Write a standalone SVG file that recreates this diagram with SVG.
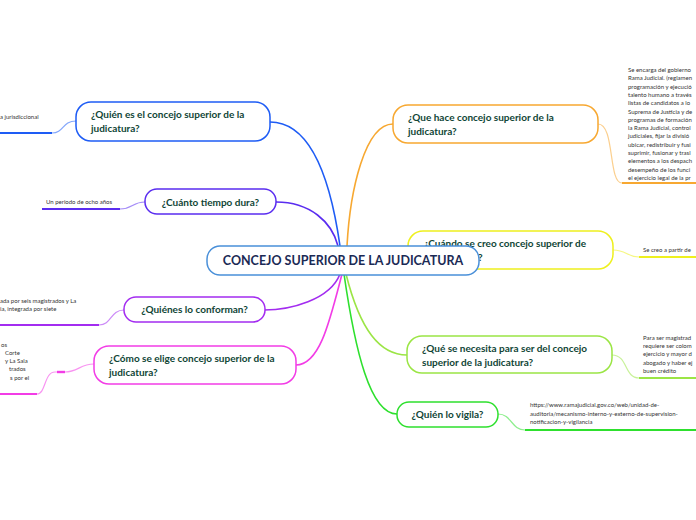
<svg xmlns="http://www.w3.org/2000/svg" width="696" height="520" viewBox="0 0 696 520">
<style>
  .node { fill: #ffffff; stroke-width: 1.5; }
  .title { font-family: Lato, "Open Sans", sans-serif; font-weight: 700; font-size: 10px; fill: #0f4536; }
  .central { font-family: Lato, "Open Sans", sans-serif; font-weight: 700; font-size: 12.5px; fill: #1b2a55; }
  .leaf { font-family: Lato, "Open Sans", sans-serif; font-size: 6px; fill: #333333; }
  .conn { fill: none; stroke-width: 1.6; stroke-linecap: round; }
  .sub { fill: none; stroke-width: 1.2; opacity: 0.55; }
  .bar { fill: none; stroke-width: 2.2; }
</style>
<rect width="696" height="520" fill="#ffffff"/>

<g id="connectors">
  <!-- central to branches -->
  <path class="conn" stroke="#1e5cf5" d="M270,122 C315,122 332,190 340,246"/>
  <path class="conn" stroke="#5a2df0" d="M276,202 C310,202 332,222 338,246"/>
  <path class="conn" stroke="#a32cf0" d="M340,274 C330,300 290,310 264,310"/>
  <path class="conn" stroke="#f23ce6" d="M342,274 C330,320 320,365 296,365"/>
  <path class="conn" stroke="#f7a831" d="M393,124 C365,124 350,190 347,246"/>
  <path class="conn" stroke="#eef01e" d="M345,250 C380,250 390,250 408,250"/>
  <path class="conn" stroke="#9be545" d="M346,274 C360,330 380,355 407,355"/>
  <path class="conn" stroke="#2ee02e" d="M344,274 C355,350 370,414 397,414"/>
  <!-- branch to leaf -->
  <path class="sub" stroke="#1e5cf5" d="M76,121 C62,121 64,133 52,133"/>
  <path class="bar" stroke="#1e5cf5" d="M0,133 L52,133"/>
  <path class="sub" stroke="#5a2df0" d="M145,202 C132,202 133,209 120,209"/>
  <path class="bar" stroke="#5a2df0" d="M42,209 L120,209"/>
  <path class="sub" stroke="#a32cf0" d="M124,310 C110,310 112,325 99,325"/>
  <path class="bar" stroke="#a32cf0" d="M0,325 L99,325"/>
  <path class="sub" stroke="#f23ce6" d="M94,364 C80,364 78,372 65,372 L55,372 C44,372 46,394 37,394"/>
  <path stroke="#f23ce6" stroke-width="2.4" fill="none" d="M57,372 L65,372"/>
  <path class="bar" stroke="#f23ce6" d="M0,394 L37,394"/>
  <path class="sub" stroke="#f7a831" d="M598,124 C615,124 608,183 622,183"/>
  <path class="bar" stroke="#f7a831" d="M622,183 L696,183"/>
  <path class="sub" stroke="#eef01e" d="M613,250 C627,250 626,257 639,257"/>
  <path class="bar" stroke="#eef01e" d="M639,257 L696,257"/>
  <path class="sub" stroke="#9be545" d="M612,355 C628,355 624,378 639,378"/>
  <path class="bar" stroke="#9be545" d="M639,378 L696,378"/>
  <path class="sub" stroke="#2ee02e" d="M498,414 C512,414 511,430 525,430"/>
  <path class="bar" stroke="#2ee02e" d="M525,430 L696,430"/>
</g>

<g id="leaf-quien-es">
  <text class="leaf" x="0" y="119">a jurisdiccional</text>
</g>
<g id="leaf-cuanto">
  <text class="leaf" x="46" y="204">Un periodo de ocho años</text>
</g>
<g id="leaf-quienes">
  <text class="leaf" x="0" y="303">ada por seis magistrados  y La</text>
  <text class="leaf" x="0" y="311">ia, integrada por siete</text>
</g>
<g id="leaf-como">
  <text class="leaf" x="1" y="347">os</text>
  <text class="leaf" x="5" y="355">Corte</text>
  <text class="leaf" x="5" y="363">y La Sala</text>
  <text class="leaf" x="9" y="371">trados</text>
  <text class="leaf" x="10" y="380">s por el</text>
</g>
<g id="leaf-que-hace">
  <text class="leaf" x="628" y="72">Se encarga del gobierno</text>
  <text class="leaf" x="628" y="80.3">Rama Judicial. (reglamen</text>
  <text class="leaf" x="628" y="88.6">programación y ejecució</text>
  <text class="leaf" x="628" y="96.9">talento humano a través</text>
  <text class="leaf" x="628" y="105.2">listas de candidatos a lo</text>
  <text class="leaf" x="628" y="113.5">Suprema de Justicia y de</text>
  <text class="leaf" x="628" y="121.8">programas de formación</text>
  <text class="leaf" x="628" y="130.1">la Rama Judicial, control</text>
  <text class="leaf" x="628" y="138.4">judiciales, fijar la divisió</text>
  <text class="leaf" x="628" y="146.7">ubicar, redistribuir y fusi</text>
  <text class="leaf" x="628" y="155">suprimir, fusionar y trasl</text>
  <text class="leaf" x="628" y="163.3">elementos a los despach</text>
  <text class="leaf" x="628" y="171.6">desempeño de los funci</text>
  <text class="leaf" x="628" y="179.9">el ejercicio legal de la pr</text>
</g>
<g id="leaf-cuando">
  <text class="leaf" x="643" y="252">Se creo a partir de</text>
</g>
<g id="leaf-que-se-necesita">
  <text class="leaf" x="643" y="340">Para ser magistrad</text>
  <text class="leaf" x="643" y="348.2">requiere ser colom</text>
  <text class="leaf" x="643" y="356.4">ejercicio y mayor d</text>
  <text class="leaf" x="643" y="364.6">abogado y haber ej</text>
  <text class="leaf" x="643" y="372.8">buen crédito</text>
</g>
<g id="leaf-vigila">
  <text class="leaf" x="530" y="407">https://www.ramajudicial.gov.co/web/unidad-de-</text>
  <text class="leaf" x="530" y="415.5">auditoria/mecanismo-interno-y-externo-de-supervision-</text>
  <text class="leaf" x="530" y="424">notificacion-y-vigilancia</text>
</g>

<g id="node-quien-es">
  <rect class="node" stroke="#1e5cf5" x="76" y="102" width="194" height="39" rx="15"/>
  <text class="title" x="91" y="118">¿Quién es el concejo superior de la</text>
  <text class="title" x="91" y="132">judicatura?</text>
</g>
<g id="node-cuanto">
  <rect class="node" stroke="#5a2df0" x="145" y="189" width="131" height="25" rx="12"/>
  <text class="title" x="210.5" y="206" text-anchor="middle">¿Cuánto tiempo dura?</text>
</g>
<g id="node-quienes">
  <rect class="node" stroke="#a32cf0" x="124" y="297" width="141" height="25" rx="12"/>
  <text class="title" x="194.5" y="313" text-anchor="middle">¿Quiénes lo conforman?</text>
</g>
<g id="node-como">
  <rect class="node" stroke="#f23ce6" x="94" y="346" width="202" height="38" rx="15"/>
  <text class="title" x="109" y="362">¿Cómo se elige concejo superior de la</text>
  <text class="title" x="109" y="376">judicatura?</text>
</g>
<g id="node-que-hace">
  <rect class="node" stroke="#f7a831" x="393" y="105" width="205" height="38" rx="15"/>
  <text class="title" x="408" y="121">¿Que hace concejo superior de la</text>
  <text class="title" x="408" y="135">judicatura?</text>
</g>
<g id="node-cuando">
  <rect class="node" stroke="#eef01e" x="408" y="231" width="205" height="38" rx="15"/>
  <text class="title" x="424" y="247">¿Cuándo se creo concejo superior de</text>
  <text class="title" x="424" y="261">la judicatura?</text>
</g>
<g id="node-que-se-necesita">
  <rect class="node" stroke="#9be545" x="407" y="336" width="205" height="37" rx="15"/>
  <text class="title" x="422" y="352">¿Qué se necesita para ser del concejo</text>
  <text class="title" x="422" y="366">superior de la judicatura?</text>
</g>
<g id="node-vigila">
  <rect class="node" stroke="#2ee02e" x="397" y="402" width="101" height="25" rx="12"/>
  <text class="title" x="447.5" y="418" text-anchor="middle">¿Quién lo vigila?</text>
</g>
<g id="node-central">
  <rect class="node" stroke="#4a90d9" x="207" y="246" width="272" height="29" rx="13"/>
  <text class="central" x="343" y="265" text-anchor="middle">CONCEJO SUPERIOR DE LA JUDICATURA</text>
</g>
</svg>
